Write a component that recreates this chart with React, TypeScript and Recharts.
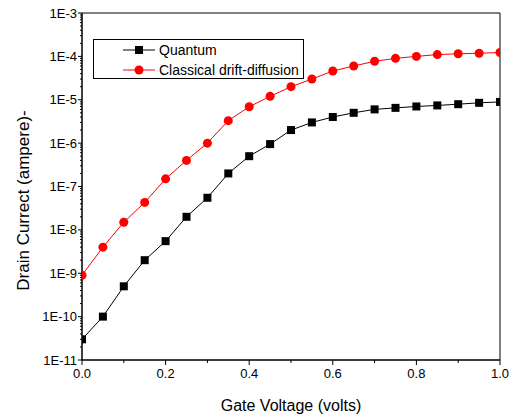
import React from "react"
import { LineChart, Line, XAxis, YAxis, ReferenceArea, Legend } from "recharts"

const gateVoltage = [0, 0.05, 0.1, 0.15, 0.2, 0.25, 0.3, 0.35, 0.4, 0.45, 0.5, 0.55, 0.6, 0.65, 0.7, 0.75, 0.8, 0.85, 0.9, 0.95, 1.0]
const quantum = [3e-11, 1e-10, 5e-10, 2e-9, 5.5e-9, 2e-8, 5.5e-8, 2e-7, 5e-7, 9.5e-7, 2e-6, 3e-6, 4e-6, 5e-6, 6e-6, 6.5e-6, 7e-6, 7.4e-6, 7.9e-6, 8.5e-6, 8.9e-6]
const classical = [9e-10, 4e-9, 1.5e-8, 4.3e-8, 1.5e-7, 4e-7, 1e-6, 3.3e-6, 6.9e-6, 1.2e-5, 2e-5, 3e-5, 4.6e-5, 6e-5, 7.7e-5, 9e-5, 1e-4, 1.1e-4, 1.15e-4, 1.18e-4, 1.23e-4]

const xTicks = [0, 0.1, 0.2, 0.3, 0.4, 0.5, 0.6, 0.7, 0.8, 0.9, 1.0]
const decades = [-11, -10, -9, -8, -7, -6, -5, -4, -3]
const minorSteps = [1, 2, 3, 4, 5, 6, 7, 8, 9]

const yTicks: number[] = []
decades.forEach((d) => {
  minorSteps.forEach((m) => {
    if (d === -3 && m > 1) return
    yTicks.push(m * Math.pow(10, d))
  })
})

const data = gateVoltage.map((v, i) => ({ v, quantum: quantum[i], classical: classical[i] }))

const font = "'Liberation Sans', Arial, sans-serif"

const YTick = (props: any) => {
  const { x, y, payload } = props
  const e = Math.log10(payload.value)
  const major = Math.abs(e - Math.round(e)) < 1e-6
  return (
    <g>
      <line x1={x} x2={x - (major ? 4 : 2)} y1={y} y2={y} stroke="#000" />
      {major && (
        <text x={x - 5} y={y} dy={4.5} textAnchor="end" fontSize={13} fontFamily={font} fill="#000">
          {`1E${Math.round(e)}`}
        </text>
      )}
    </g>
  )
}

const XTick = (props: any) => {
  const { x, y, payload } = props
  const major = Math.round(payload.value * 10) % 2 === 0
  return (
    <g>
      <line x1={x} x2={x} y1={y} y2={y + (major ? 5 : 3)} stroke="#000" />
      {major && (
        <text x={x} y={y + 18} textAnchor="middle" fontSize={13} fontFamily={font} fill="#000">
          {payload.value.toFixed(1)}
        </text>
      )}
    </g>
  )
}

const Square = (props: any) => {
  const { cx, cy } = props
  return <rect x={cx - 4} y={cy - 4} width={8} height={8} fill="#000" />
}

const Circle = (props: any) => {
  const { cx, cy } = props
  return <circle cx={cx} cy={cy} r={4.5} fill="#ff0000" />
}

const LegendBox = () => (
  <div
    style={{
      border: "1px solid #000",
      width: 209,
      height: 38,
      background: "#fff",
      fontFamily: font,
      fontSize: 14,
      color: "#000",
      boxSizing: "content-box",
    }}
  >
    {[
      { name: "Quantum", color: "#000", square: true },
      { name: "Classical drift-diffusion", color: "#ff0000", square: false },
    ].map((item, i) => (
      <div key={item.name} style={{ position: "absolute", left: 30, top: 3 + i * 20, height: 16, display: "flex", alignItems: "center" }}>
        <svg width={34} height={16}>
          <line x1={0} x2={32} y1={8} y2={8} stroke={item.color} />
          {item.square ? <rect x={12} y={4} width={8} height={8} fill={item.color} /> : <circle cx={16} cy={8} r={4.5} fill={item.color} />}
        </svg>
        <span style={{ marginLeft: 2, whiteSpace: "nowrap" }}>{item.name}</span>
      </div>
    ))}
  </div>
)

export default function App() {
  return (
    <div style={{ position: "absolute", left: 0, top: 0, width: 513, height: 416 }}>
      <LineChart width={513} height={416} data={data} margin={{ top: 13, right: 13, left: 0, bottom: 0 }}>
        <XAxis
          dataKey="v"
          type="number"
          domain={[0, 1]}
          ticks={xTicks}
          interval={0}
          tick={<XTick />}
          tickLine={false}
          tickSize={0}
          tickMargin={0}
          height={56}
          stroke="#000"
          allowDataOverflow
          label={(p: any) => {
            const vb = p.viewBox
            return (
              <text x={vb.x + vb.width / 2} y={vb.y + 51} textAnchor="middle" fontSize={16} fontFamily={font} fill="#000">
                Gate Voltage (volts)
              </text>
            )
          }}
        />
        <YAxis
          scale="log"
          type="number"
          domain={[1e-11, 1e-3]}
          ticks={yTicks}
          interval={0}
          tick={<YTick />}
          tickLine={false}
          tickSize={0}
          tickMargin={0}
          width={82}
          stroke="#000"
          allowDataOverflow
          label={(p: any) => {
            const vb = p.viewBox
            const cy = vb.y + vb.height / 2 + 14
            return (
              <text x={29} y={cy} transform={`rotate(-90, 29, ${cy})`} textAnchor="middle" fontSize={17} fontFamily={font} fill="#000">
                Drain Currect (ampere)-
              </text>
            )
          }}
        />
        <ReferenceArea x1={0} x2={1} y1={1e-11} y2={1e-3} fill="none" stroke="#000" />
        <Legend
          layout="horizontal"
          verticalAlign="middle"
          align="center"
          content={<LegendBox />}
          wrapperStyle={{ left: 93, top: 39, width: 211, height: 40 }}
        />
        <Line dataKey="quantum" stroke="#000" strokeWidth={1} dot={<Square />} isAnimationActive={false} />
        <Line dataKey="classical" stroke="#ff0000" strokeWidth={1} dot={<Circle />} isAnimationActive={false} />
      </LineChart>
    </div>
  )
}
